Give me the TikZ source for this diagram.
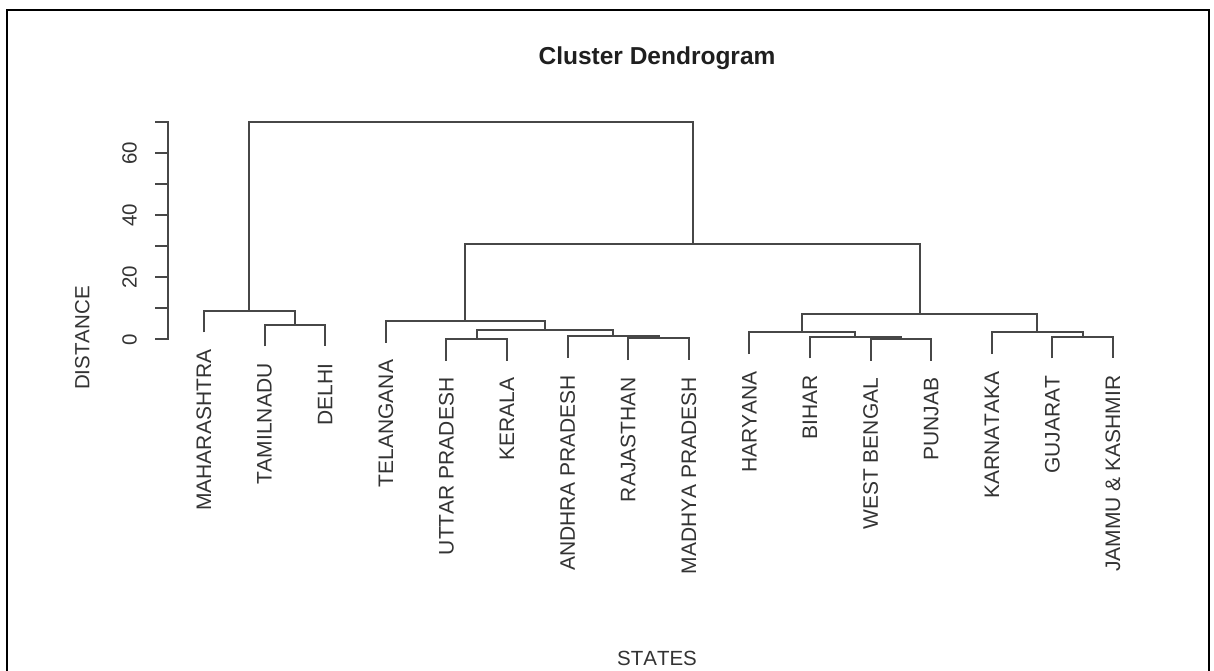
\documentclass[tikz,border=0pt]{standalone}
\usepackage{fontspec}
\setmainfont{Liberation Sans}[Kerning=Off]
\begin{document}
\begin{tikzpicture}[x=1pt,y=1pt,
  dend/.style={draw=black!72, line width=2pt},
  leaflab/.style={rotate=90, anchor=east, inner sep=0pt, font=\fontsize{21}{24}\selectfont, text=black!80},
  ticklab/.style={rotate=90, anchor=base, inner sep=0pt, font=\fontsize{20.5}{24}\selectfont, text=black!80},
  axlab/.style={anchor=base, inner sep=0pt, font=\fontsize{20.5}{24}\selectfont, text=black!80},
  titlelab/.style={anchor=base, inner sep=0pt, font=\fontsize{24.5}{28}\selectfont\bfseries, text=black!88}]
\useasboundingbox (0,0) rectangle (1214,670);
\fill[white] (0,0) rectangle (1214,670);
\draw[line width=2.4pt, black] (7,-10) -- (7,660) -- (1209,660) -- (1209,-10);
\node[titlelab] (title) at (657,605.5) {Cluster Dendrogram};
\node[axlab] (xlab) at (657,5) {STATES};
\node[axlab, rotate=90] (ylab) at (89.3,332) {DISTANCE};
\begin{scope}[shift={(0,330.7)}, y=3.1pt]
  % axis
  \coordinate (ax0) at (167.7,0);
  \coordinate (ax70) at (167.7,70);
  \draw[dend, line cap=rect] (ax0) -- (ax70);
  \foreach \t in {0,10,...,70} { \draw[dend] (167.7,\t) -- (155,\t); }
  \foreach \t in {0,20,40,60} { \node[ticklab] (t\t) at (136.5,\t) {\t}; }
  % leaves (bottom ends)
  \coordinate (l1) at (204,2.2);
  \coordinate (l2) at (264.6,-2.3);
  \coordinate (l3) at (325.2,-2.3);
  \coordinate (l4) at (385.8,-1.1);
  \coordinate (l5) at (446.4,-6.85);
  \coordinate (l6) at (507,-6.85);
  \coordinate (l7) at (567.6,-5.95);
  \coordinate (l8) at (628.2,-6.7);
  \coordinate (l9) at (688.8,-6.7);
  \coordinate (l10) at (749.4,-4.75);
  \coordinate (l11) at (810,-6.15);
  \coordinate (l12) at (870.6,-6.88);
  \coordinate (l13) at (931.2,-6.88);
  \coordinate (l14) at (991.8,-4.75);
  \coordinate (l15) at (1052.4,-6.15);
  \coordinate (l16) at (1113,-6.15);
  % merges
  \coordinate (mTD) at (294.9,4.7);
  \coordinate (mMTD) at (249.45,9.2);
  \coordinate (mUK) at (476.7,0.15);
  \coordinate (mRM) at (658.5,0.3);
  \coordinate (mARM) at (613.05,1.05);
  \coordinate (mUKARM) at (544.875,3.0);
  \coordinate (mT) at (465.3375,5.9);
  \coordinate (mWP) at (900.9,0.12);
  \coordinate (mBWP) at (855.45,0.85);
  \coordinate (mH) at (802.425,2.25);
  \coordinate (mGJ) at (1082.7,0.85);
  \coordinate (mKGJ) at (1037.25,2.25);
  \coordinate (mR) at (919.8375,8.2);
  \coordinate (mC2) at (692.5875,30.6);
  \coordinate (mTop) at (471,70.2);
  % branches
  \draw[dend] (l2) |- (mTD) -| (l3);
  \draw[dend] (l1) |- (mMTD) -| (mTD);
  \draw[dend] (l5) |- (mUK) -| (l6);
  \draw[dend] (l8) |- (mRM) -| (l9);
  \draw[dend] (l7) |- (mARM) -| (mRM);
  \draw[dend] (mUK) |- (mUKARM) -| (mARM);
  \draw[dend] (l4) |- (mT) -| (mUKARM);
  \draw[dend] (l12) |- (mWP) -| (l13);
  \draw[dend] (l11) |- (mBWP) -| (mWP);
  \draw[dend] (l10) |- (mH) -| (mBWP);
  \draw[dend] (l15) |- (mGJ) -| (l16);
  \draw[dend] (l14) |- (mKGJ) -| (mGJ);
  \draw[dend] (mH) |- (mR) -| (mKGJ);
  \draw[dend] (mT) |- (mC2) -| (mR);
  \draw[dend] (mMTD) |- (mTop) -| (mC2);
  % leaf labels
  \node[leaflab] (n1) at ([yshift=-17pt]l1) {MAHARASHTRA};
  \node[leaflab] (n2) at ([yshift=-17pt]l2) {TAMILNADU};
  \node[leaflab] (n3) at ([yshift=-17pt]l3) {DELHI};
  \node[leaflab] (n4) at ([yshift=-17pt]l4) {TELANGANA};
  \node[leaflab] (n5) at ([yshift=-17pt]l5) {UTTAR PRADESH};
  \node[leaflab] (n6) at ([yshift=-17pt]l6) {KERALA};
  \node[leaflab] (n7) at ([yshift=-17pt]l7) {ANDHRA PRADESH};
  \node[leaflab] (n8) at ([yshift=-17pt]l8) {RAJASTHAN};
  \node[leaflab] (n9) at ([yshift=-17pt]l9) {MADHYA PRADESH};
  \node[leaflab] (n10) at ([yshift=-17pt]l10) {HARYANA};
  \node[leaflab] (n11) at ([yshift=-17pt]l11) {BIHAR};
  \node[leaflab] (n12) at ([yshift=-17pt]l12) {WEST BENGAL};
  \node[leaflab] (n13) at ([yshift=-17pt]l13) {PUNJAB};
  \node[leaflab] (n14) at ([yshift=-17pt]l14) {KARNATAKA};
  \node[leaflab] (n15) at ([yshift=-17pt]l15) {GUJARAT};
  \node[leaflab] (n16) at ([yshift=-17pt]l16) {JAMMU \& KASHMIR};
\end{scope}
\end{tikzpicture}
\end{document}
